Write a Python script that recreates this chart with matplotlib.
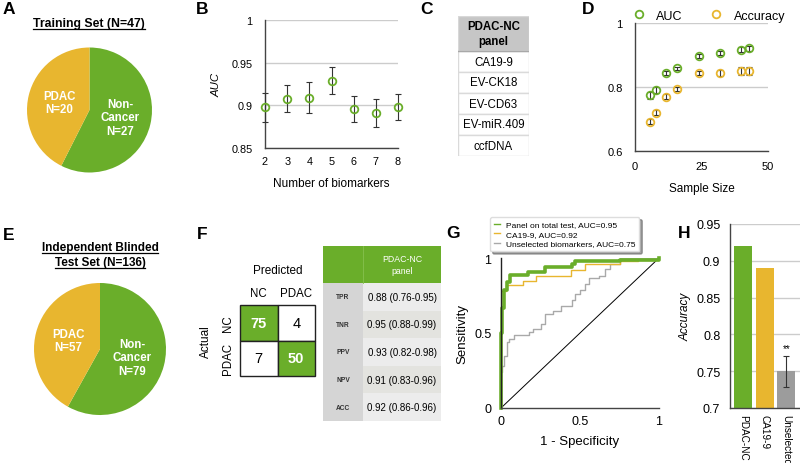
import matplotlib
matplotlib.use('Agg')
import matplotlib.pyplot as plt
from matplotlib.patches import Rectangle
from matplotlib.lines import Line2D

plt.rcParams['font.family'] = ['Liberation Sans', 'DejaVu Sans']

GREEN = '#6aae2a'
YELLOW = '#e8b62f'
GRAY = '#9c9c9c'
DARK = '#333333'
GRID = '#cccccc'

# A / E : sample composition
train_labels = ['Non-\nCancer\nN=27', 'PDAC\nN=20']
train_counts = [27, 20]
test_labels = ['Non-\nCancer\nN=79', 'PDAC\nN=57']
test_counts = [79, 57]

# B : AUC vs number of biomarkers
n_biomarkers = [2, 3, 4, 5, 6, 7, 8]
auc_by_n = [0.898, 0.908, 0.909, 0.929, 0.896, 0.891, 0.898]
auc_by_n_err = [0.017, 0.016, 0.018, 0.016, 0.015, 0.016, 0.015]

# C : panel members
panel_markers = ['CA19-9', 'EV-CK18', 'EV-CD63', 'EV-miR.409', 'ccfDNA']

# D : learning curve
sample_size = [5.5, 7.8, 11.8, 15.8, 24, 32, 40, 43]
auc_curve = [0.774, 0.790, 0.844, 0.858, 0.898, 0.906, 0.916, 0.921]
auc_curve_err = [0.010, 0.009, 0.005, 0.005, 0.006, 0.006, 0.008, 0.008]
acc_curve = [0.692, 0.720, 0.770, 0.795, 0.844, 0.844, 0.849, 0.849]
acc_curve_err = [0.008, 0.008, 0.007, 0.006, 0.007, 0.010, 0.012, 0.012]

# F : confusion matrix + metrics
confusion = [[75, 4], [7, 50]]
class_names = ['NC', 'PDAC']
metric_names = ['TPR', 'TNR', 'PPV', 'NPV', 'ACC']
metric_values = ['0.88 (0.76-0.95)', '0.95 (0.88-0.99)', '0.93 (0.82-0.98)',
                 '0.91 (0.83-0.96)', '0.92 (0.86-0.96)']

# G : ROC curves (step points)
panel_fpr = [0, 0, 0.008, 0.02, 0.04, 0.06, 0.17, 0.28, 0.45, 0.47, 0.75, 1.0]
panel_tpr = [0, 0.5, 0.67, 0.79, 0.84, 0.89, 0.91, 0.94, 0.96, 0.98, 0.99, 1.0]
ca199_fpr = [0, 0, 0.03, 0.14, 0.22, 0.44, 0.53, 0.75, 0.87, 1.0]
ca199_tpr = [0, 0.78, 0.82, 0.85, 0.88, 0.92, 0.96, 0.98, 0.99, 1.0]
unsel_fpr = [0, 0, 0.006, 0.02, 0.04, 0.05, 0.08, 0.175, 0.2, 0.25, 0.28, 0.33,
             0.38, 0.45, 0.47, 0.5, 0.53, 0.56, 0.62, 0.66, 0.69, 0.75, 1.0]
unsel_tpr = [0, 0.24, 0.28, 0.35, 0.44, 0.46, 0.49, 0.51, 0.53, 0.56, 0.63, 0.65,
             0.68, 0.72, 0.76, 0.79, 0.83, 0.87, 0.88, 0.93, 0.96, 1.0, 1.0]
roc_labels = ['Panel on total test, AUC=0.95', 'CA19-9, AUC=0.92',
              'Unselected biomarkers, AUC=0.75']

# H : accuracy comparison
acc_groups = ['PDAC-NC', 'CA19-9', 'Unselected']
acc_values = [0.92, 0.89, 0.75]
acc_err = [0, 0, 0.021]

W, H = 800, 464
fig = plt.figure(figsize=(W / 100, H / 100), dpi=100)


def box(l, t, r, b):
    return [l / W, 1 - b / H, (r - l) / W, (b - t) / H]


def style_axes(ax, size):
    for s in ['top', 'right']:
        ax.spines[s].set_visible(False)
    for s in ['left', 'bottom']:
        ax.spines[s].set_color('#444444')
        ax.spines[s].set_linewidth(1)
    ax.tick_params(length=0, labelsize=size)


def unclip(container):
    for part in container.get_children():
        part.set_clip_on(False)


for letter, x, y in [('A', 3, 10), ('B', 196, 9), ('C', 420, 9), ('D', 582, 9),
                     ('E', 3, 236), ('F', 197, 235), ('G', 446, 234), ('H', 678, 234)]:
    fig.text(x / W, 1 - y / H, letter, fontsize=12.5, fontweight='bold', va='center')

# --- A and E pies
titles = []
for counts, labels, cx, cy, r in [(train_counts, train_labels, 89.5, 111, 62.5),
                                   (test_counts, test_labels, 100, 350, 66)]:
    ax = fig.add_axes(box(cx - 1.25 * r, cy - 1.25 * r, cx + 1.25 * r, cy + 1.25 * r))
    wedges, texts = ax.pie(counts, colors=[GREEN, YELLOW], startangle=90, counterclock=False,
                           labels=labels, labeldistance=0.5,
                           textprops=dict(color='white', fontweight='bold', fontsize=8.3))
    for t in texts:
        t.set_ha('center')
        t.set_va('center')
        t.set_linespacing(1.15)
    ax.set_xlim(-1.25, 1.25)
    ax.set_ylim(-1.25, 1.25)

titles.append(fig.text(89 / W, 1 - 24 / H, 'Training Set (N=47)', fontsize=8.8,
                       fontweight='bold', ha='center', va='center'))
titles.append(fig.text(100 / W, 1 - 248 / H, 'Independent Blinded', fontsize=8.5,
                       fontweight='bold', ha='center', va='center'))
titles.append(fig.text(100 / W, 1 - 263 / H, 'Test Set (N=136)', fontsize=8.5,
                       fontweight='bold', ha='center', va='center'))

# --- B
ax = fig.add_axes(box(265, 21, 398, 149))
eb = ax.errorbar(n_biomarkers, auc_by_n, yerr=auc_by_n_err, fmt='none', ecolor=DARK,
                 elinewidth=0.8, capsize=2, capthick=0.8, zorder=3)
unclip(eb)
ax.plot(n_biomarkers, auc_by_n, 'o', mfc='none', mec=GREEN, ms=5.5, mew=1.3,
        clip_on=False, zorder=4)
ax.set_xlim(2, 8)
ax.set_ylim(0.85, 1)
ax.set_yticks([0.85, 0.9, 0.95, 1])
ax.set_yticklabels(['0.85', '0.9', '0.95', '1'])
ax.set_xticks(n_biomarkers)
ax.yaxis.grid(True, color=GRID, lw=1)
ax.set_axisbelow(True)
style_axes(ax, 7.8)
ax.tick_params(axis='y', pad=9)
ax.tick_params(axis='x', pad=6)
ax.set_xlabel('Number of biomarkers', fontsize=8.5, labelpad=8)
ax.set_ylabel('AUC', fontsize=8.2, style='italic', labelpad=7)

# --- C table
ax = fig.add_axes(box(458, 17, 529, 157))
ax.set_xlim(0, 71)
ax.set_ylim(140, 0)
ax.axis('off')
ax.add_patch(Rectangle((0, 0), 71, 35, fc='#c6c6c6', ec='#d8d8d8', lw=1))
ax.text(35.5, 17.5, 'PDAC-NC\npanel', ha='center', va='center', fontsize=8.3,
        fontweight='bold', linespacing=1.3)
for i, name in enumerate(panel_markers):
    ax.add_patch(Rectangle((0, 35 + 21 * i), 71, 21, fc='white', ec='#dadada', lw=1))
    ax.text(35.5, 35 + 21 * i + 10.5, name, ha='center', va='center', fontsize=8.3)
ax.plot([0, 71], [35, 35], color='#a8a8a8', lw=1)

# --- D
ax = fig.add_axes(box(635, 24, 768, 152))
ax.errorbar(sample_size, auc_curve, yerr=auc_curve_err, fmt='none', ecolor=DARK,
            elinewidth=0.8, capsize=2, capthick=0.8, zorder=3)
ax.errorbar(sample_size, acc_curve, yerr=acc_curve_err, fmt='none', ecolor=DARK,
            elinewidth=0.8, capsize=2, capthick=0.8, zorder=3)
ax.plot(sample_size, auc_curve, 'o', mfc='none', mec=GREEN, ms=5.5, mew=1.3, label='AUC', zorder=4)
ax.plot(sample_size, acc_curve, 'o', mfc='none', mec=YELLOW, ms=5.5, mew=1.3, label='Accuracy', zorder=4)
ax.set_xlim(0, 50)
ax.set_ylim(0.6, 1)
ax.set_xticks([0, 25, 50])
ax.set_yticks([0.6, 0.8, 1])
ax.set_yticklabels(['0.6', '0.8', '1'])
ax.yaxis.grid(True, color=GRID, lw=1)
ax.set_axisbelow(True)
style_axes(ax, 8)
ax.tick_params(axis='y', pad=9)
ax.tick_params(axis='x', pad=7)
ax.set_xlabel('Sample Size', fontsize=8.5, labelpad=8)
ax.legend(loc='lower left', bbox_to_anchor=(-0.03, 1.0), ncol=2, frameon=False,
          fontsize=9, handlelength=1, handletextpad=0.9, columnspacing=2.2,
          borderpad=0.1, borderaxespad=0)

# --- F confusion matrix
ax = fig.add_axes(box(240, 306, 315, 377))
ax.set_xlim(0, 2)
ax.set_ylim(2, 0)
ax.axis('off')
for i in range(2):
    for j in range(2):
        diag = i == j
        ax.add_patch(Rectangle((j, i), 1, 1, fc=GREEN if diag else 'white', ec='#222222',
                               lw=1, clip_on=False))
        ax.text(j + 0.5, i + 0.5, str(confusion[i][j]), ha='center', va='center',
                fontsize=10.5, color='white' if diag else 'black',
                fontweight='bold' if diag else 'normal')
    ax.text(i + 0.5, -0.34, class_names[i], ha='center', va='center', fontsize=8.3)
    ax.text(-0.32, i + 0.5, class_names[i], ha='center', va='center', fontsize=8.3, rotation=90)
ax.text(1, -1.0, 'Predicted', ha='center', va='center', fontsize=8.5)
ax.text(-0.9, 1, 'Actual', ha='center', va='center', fontsize=8.5, rotation=90)

# --- F metrics table
ax = fig.add_axes(box(323, 247, 441, 422))
ax.set_xlim(0, 118)
ax.set_ylim(175, 0)
ax.axis('off')
ax.add_patch(Rectangle((0, 0), 118, 37, fc=GREEN, ec='none'))
ax.plot([40, 40], [0, 37], color='#86c04e', lw=0.6)
ax.text(79, 18.5, 'PDAC-NC\npanel', ha='center', va='center', fontsize=6.3,
        color='white', linespacing=1.3)
row_h = 138 / len(metric_names)
for i, (name, val) in enumerate(zip(metric_names, metric_values)):
    y0 = 37 + row_h * i
    ax.add_patch(Rectangle((0, y0), 40, row_h, fc='#d5d5d5', ec='none'))
    ax.add_patch(Rectangle((40, y0), 78, row_h, fc='#ececec' if i % 2 == 0 else '#e3e3df', ec='none'))
    ax.text(20, y0 + row_h / 2, name, ha='center', va='center', fontsize=4.8,
            fontweight='bold', color='#333333')
    ax.text(79, y0 + row_h / 2, val, ha='center', va='center', fontsize=7)

# --- G ROC
ax = fig.add_axes(box(501, 259, 659, 409))
ax.axline((0, 0), slope=1, color='black', lw=0.7)
ax.plot(unsel_fpr, unsel_tpr, drawstyle='steps-post', color='#a9a9a9', lw=1, label=roc_labels[2])
ax.plot(ca199_fpr, ca199_tpr, drawstyle='steps-post', color=YELLOW, lw=1, label=roc_labels[1])
ax.plot(panel_fpr, panel_tpr, drawstyle='steps-post', color=GREEN, lw=2.6, label=roc_labels[0],
        clip_on=False)
ax.set_xlim(0, 1)
ax.set_ylim(0, 1)
ax.set_xticks([0, 0.5, 1])
ax.set_yticks([0, 0.5, 1])
ax.set_xticklabels(['0', '0.5', '1'])
ax.set_yticklabels(['0', '0.5', '1'])
style_axes(ax, 9)
ax.spines['left'].set_color('#222222')
ax.tick_params(axis='y', pad=7)
ax.tick_params(axis='x', pad=5)
ax.set_xlabel('1 - Specificity', fontsize=9.5, labelpad=6)
ax.set_ylabel('Sensitivity', fontsize=9.5, labelpad=4)
handles, labels = ax.get_legend_handles_labels()
leg = ax.legend(handles[::-1], labels[::-1], loc='lower left', bbox_to_anchor=(-0.07, 1.045),
                fontsize=6, handlelength=0.8, handletextpad=0.7, labelspacing=0.2,
                fancybox=True, shadow=True, framealpha=1, edgecolor='#dddddd',
                borderpad=0.45, borderaxespad=0)
for line in leg.get_lines():
    line.set_linewidth(1)

# --- H accuracy bars
ax = fig.add_axes(box(730, 225, 806, 409))
xs = range(len(acc_groups))
ax.bar(xs, acc_values, width=0.83, color=[GREEN, YELLOW, GRAY], zorder=2)
ax.errorbar(xs[2], acc_values[2], yerr=acc_err[2], fmt='none', ecolor=DARK,
            elinewidth=0.8, capsize=2, capthick=0.8, zorder=3)
ax.text(xs[2], acc_values[2] + acc_err[2] + 0.004, '**', ha='center', va='bottom', fontsize=7)
ax.set_xlim(-0.6, 2.9)
ax.set_ylim(0.7, 0.95)
ax.set_yticks([0.7, 0.75, 0.8, 0.85, 0.9, 0.95])
ax.set_yticklabels(['0.7', '0.75', '0.8', '0.85', '0.9', '0.95'])
ax.set_xticks(list(xs))
ax.set_xticklabels(acc_groups, rotation=-90, fontsize=7.2)
ax.yaxis.grid(True, color=GRID, lw=1)
ax.set_axisbelow(True)
style_axes(ax, 9)
ax.tick_params(axis='x', labelsize=7.2, pad=4)
ax.tick_params(axis='y', pad=7)
ax.set_ylabel('Accuracy', fontsize=8.5, style='italic', labelpad=3)

# underline pie titles
fig.canvas.draw()
for t in titles:
    bb = t.get_window_extent()
    fig.add_artist(Line2D([bb.x0 / W, bb.x1 / W], [(bb.y0 + 0.5) / H] * 2,
                          transform=fig.transFigure, color='black', lw=0.9))

fig.savefig('out.png', dpi=100)
